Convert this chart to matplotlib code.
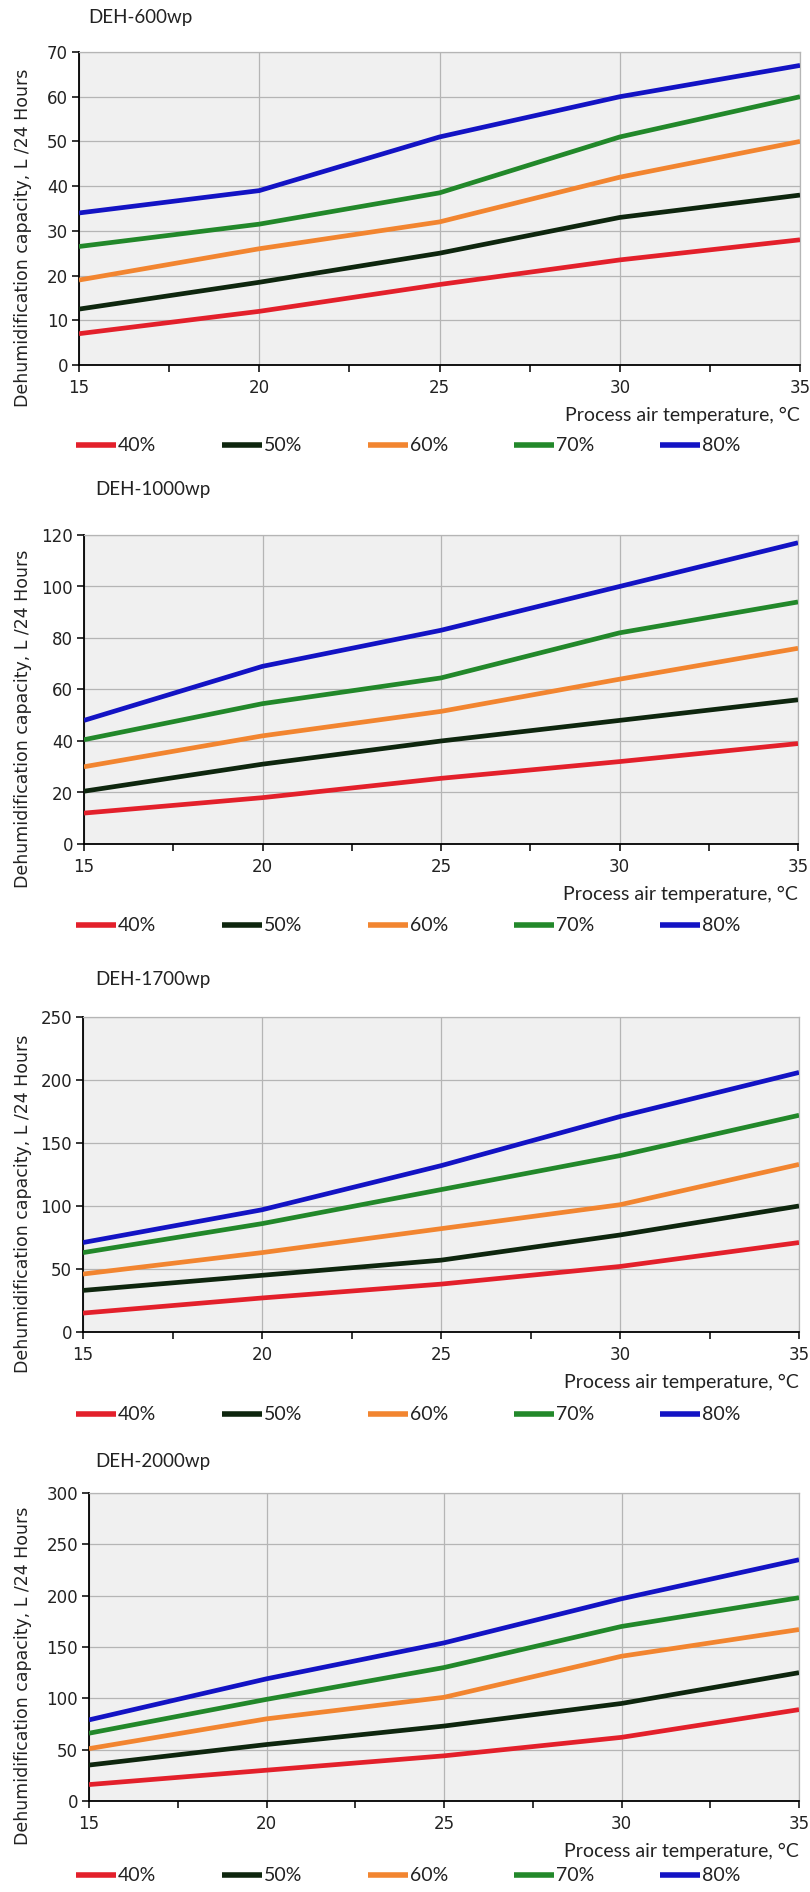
import matplotlib
matplotlib.use('Agg')
import matplotlib.pyplot as plt
from matplotlib.lines import Line2D
from matplotlib.ticker import MultipleLocator

W, H = 810, 1892

temps = [15, 20, 25, 30, 35]
humidity = ['40%', '50%', '60%', '70%', '80%']
colors = ['#E3202B', '#0E260E', '#F28530', '#22882A', '#1313C4']

models = ['DEH-600wp', 'DEH-1000wp', 'DEH-1700wp', 'DEH-2000wp']

# capacity L/24h, one list per humidity
deh600 = [
    [7, 12, 18, 23.5, 28],
    [12.5, 18.5, 25, 33, 38],
    [19, 26, 32, 42, 50],
    [26.5, 31.5, 38.5, 51, 60],
    [34, 39, 51, 60, 67],
]
deh1000 = [
    [12, 18, 25.5, 32, 39],
    [20.5, 31, 40, 48, 56],
    [30, 42, 51.5, 64, 76],
    [40.5, 54.5, 64.5, 82, 94],
    [48, 69, 83, 100, 117],
]
deh1700 = [
    [15, 27, 38, 52, 71],
    [33, 45, 57, 77, 100],
    [46, 63, 82, 101, 133],
    [63, 86, 113, 140, 172],
    [71, 97, 132, 171, 206],
]
deh2000 = [
    [16, 30, 44, 62, 89],
    [35, 55, 73, 95, 125],
    [51, 80, 101, 141, 167],
    [66, 99, 130, 170, 198],
    [79, 119, 154, 197, 235],
]
all_data = [deh600, deh1000, deh1700, deh2000]
y_max = [70, 120, 250, 300]
y_step = [10, 20, 50, 50]

# layout in pixels: left, right, top, bottom of each plot area, title y, legend y
boxes = [
    (79, 800, 52, 365, 17, 445),
    (84, 798, 535, 844, 490, 925),
    (83, 799, 1017, 1332, 979, 1414),
    (89, 799, 1493, 1801, 1462, 1875),
]

tick_font = ['Liberation Sans Narrow', 'DejaVu Sans']
text_font = ['Lato', 'DejaVu Sans']

fig = plt.figure(figsize=(W / 100, H / 100), dpi=100)
fig.patch.set_facecolor('white')

for i, (l, r, t, b, ty, ly) in enumerate(boxes):
    ax = fig.add_axes([l / W, 1 - b / H, (r - l) / W, (b - t) / H])
    ax.set_facecolor('#F0F0F0')
    for k in range(len(humidity)):
        ax.plot(temps, all_data[i][k], color=colors[k], lw=3.4,
                solid_joinstyle='round', solid_capstyle='butt', zorder=3)
    ax.set_xlim(15, 35)
    ax.set_ylim(0, y_max[i])
    ax.xaxis.set_major_locator(MultipleLocator(5))
    ax.xaxis.set_minor_locator(MultipleLocator(2.5))
    ax.yaxis.set_major_locator(MultipleLocator(y_step[i]))
    ax.grid(True, which='major', color='#B5B5B5', lw=0.9, zorder=0)
    ax.set_axisbelow(True)
    for s in ['top', 'right']:
        ax.spines[s].set_color('#B5B5B5')
        ax.spines[s].set_linewidth(0.9)
    for s in ['left', 'bottom']:
        ax.spines[s].set_color('black')
        ax.spines[s].set_linewidth(1.3)
    ax.tick_params(axis='both', which='both', direction='out', length=5,
                   width=1.1, color='black', labelsize=12)
    ax.tick_params(axis='x', which='major', pad=5)
    ax.tick_params(axis='y', pad=3)
    for lab in ax.get_xticklabels() + ax.get_yticklabels():
        lab.set_family(tick_font)
        lab.set_color('#222222')

    # title, axis labels
    fig.text(88 / W if i == 0 else 95 / W, 1 - ty / H, models[i],
             family=text_font, fontsize=13.5, color='#222222', va='center', ha='left')
    fig.text(r / W, 1 - (b + 50) / H, 'Process air temperature, °C',
             family=text_font, fontsize=14, color='#222222', va='center', ha='right')
    fig.text(23 / W, 1 - ((t + b) / 2 + 29) / H,
             'Dehumidification capacity, L /24 Hours',
             family=['DejaVu Sans'], fontsize=12.5, color='#222222',
             rotation=90, va='center', ha='center')

    # legend row
    x0 = 76
    for k in range(len(humidity)):
        xs = x0 + k * 146
        fig.add_artist(Line2D([xs / W, (xs + 40) / W], [1 - ly / H, 1 - ly / H],
                              transform=fig.transFigure, color=colors[k], lw=4,
                              solid_capstyle='butt'))
        fig.text((xs + 42) / W, 1 - ly / H, humidity[k], family=text_font,
                 fontsize=14, color='#222222', va='center', ha='left')

fig.savefig('out.png', dpi=100)
